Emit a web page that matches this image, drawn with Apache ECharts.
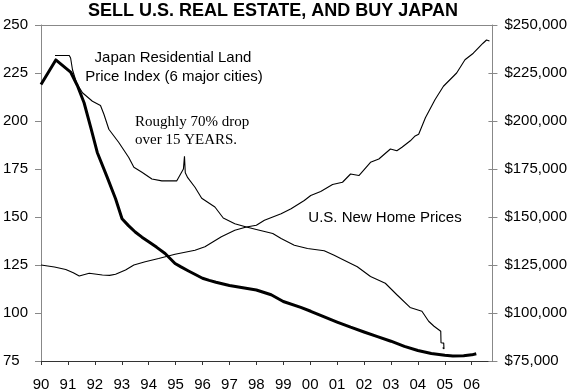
<!DOCTYPE html>
<html>
<head>
<meta charset="utf-8">
<script src="https://cdn.jsdelivr.net/npm/echarts@6/dist/echarts.min.js"></script>
<style>html,body{margin:0;padding:0;background:#fff}#c{width:570px;height:392px}</style>
</head>
<body>
<div id="c"></div>
<script>
// ---- data ----
const titleText = 'SELL U.S. REAL ESTATE, AND BUY JAPAN';
const leftTicks = [75, 100, 125, 150, 175, 200, 225, 250];
const rightTicks = [75000, 100000, 125000, 150000, 175000, 200000, 225000, 250000];
const yearTicks = [1990, 1991, 1992, 1993, 1994, 1995, 1996, 1997, 1998, 1999, 2000, 2001, 2002, 2003, 2004, 2005, 2006];

// thick curve (left axis)
const japanTrend = [
  [1990.0, 219], [1990.55, 231.8], [1991.1, 225.5], [1991.35, 218.5], [1991.6, 209.5], [1991.85, 196.5],
  [1992.09, 183.6], [1992.45, 171], [1992.77, 159.5], [1993.01, 149.1], [1993.25, 145.5],
  [1993.5, 142.2], [1993.75, 139.5], [1994.0, 137.1], [1994.3, 134.2], [1994.61, 131],
  [1994.98, 125.8], [1995.2, 124], [1995.48, 121.9], [1995.75, 119.9], [1996.0, 118.1],
  [1996.25, 117], [1996.5, 116], [1997.0, 114.3], [1997.5, 113.1], [1998.0, 112],
  [1998.55, 109.5], [1999.0, 106], [1999.65, 102.9], [2000.02, 100.9], [2000.5, 98.1],
  [2001.0, 95.3], [2001.5, 92.6], [2002.0, 90.1], [2002.5, 87.7], [2003.0, 85.3],
  [2003.5, 82.6], [2004.0, 80.5], [2004.5, 78.9], [2005.0, 78.0], [2005.3, 77.6],
  [2005.7, 77.7], [2006.0, 78.2], [2006.17, 78.8]
];

// thin Japan residential land price index (left axis)
const japanLand = [
  [1990.52, 234.1], [1991.05, 234.1], [1991.1, 232.8], [1991.17, 226.7], [1991.32, 219.8],
  [1991.54, 214.7], [1991.91, 210.3], [1992.21, 208.1], [1992.34, 203.4], [1992.52, 195.7],
  [1992.89, 188.8], [1993.26, 181.0], [1993.45, 175.9], [1993.75, 173.3], [1994.12, 169.8],
  [1994.49, 168.8], [1995.04, 168.8], [1995.29, 175.0], [1995.33, 181.6], [1995.36, 173],
  [1995.45, 170.5], [1995.72, 165.5], [1995.97, 159.8], [1996.46, 155.2], [1996.77, 149.5],
  [1997.2, 146.5], [1997.63, 144.8], [1998.0, 143.5], [1998.61, 141.4], [1998.92, 138.8],
  [1999.41, 135.3], [1999.9, 133.6], [2000.52, 132.4], [2000.89, 130.1], [2001.13, 128.4],
  [2001.75, 124.1], [2002.24, 119.0], [2002.79, 115.5], [2003.22, 109.5], [2003.71, 102.9],
  [2004.15, 100.9], [2004.4, 95.7], [2004.6, 93.1], [2004.85, 90.5], [2004.86, 84.5],
  [2004.96, 84.3], [2004.97, 81.3], [2004.92, 82.0]
];

// U.S. new home prices (right axis, dollars)
const usHomePrices = [
  [1990.0, 125000], [1990.5, 124000], [1990.92, 122700], [1991.2, 121000], [1991.42, 119300],
  [1991.79, 120700], [1992.28, 119800], [1992.55, 119600], [1992.77, 120200], [1993.14, 122400],
  [1993.45, 125000], [1993.87, 126700], [1994.37, 128400], [1994.98, 130600], [1995.72, 132700],
  [1996.09, 134500], [1996.7, 139700], [1997.2, 143100], [1997.63, 144800], [1998.0, 145700],
  [1998.3, 148300], [1998.92, 151700], [1999.29, 154300], [1999.78, 158600], [2000.02, 161200],
  [2000.39, 163300], [2000.83, 166900], [2001.2, 168100], [2001.5, 172400], [2001.81, 171600],
  [2002.24, 178500], [2002.55, 180200], [2002.98, 185400], [2003.22, 184500], [2003.41, 186300],
  [2003.72, 189700], [2003.9, 192200], [2004.03, 193100], [2004.28, 201700], [2004.64, 211200],
  [2004.95, 218100], [2005.44, 225000], [2005.75, 231900], [2006.06, 235300], [2006.42, 240500],
  [2006.55, 242200], [2006.66, 241700]
];

const annotations = {
  japan1: 'Japan Residential Land',
  japan2: 'Price Index (6 major cities)',
  drop1: 'Roughly 70% drop',
  drop2: 'over 15 YEARS.',
  us: 'U.S. New Home Prices'
};

// ---- chart ----
const SANS = '"Liberation Sans", Arial, sans-serif';
const SERIF = '"Liberation Serif", "Times New Roman", serif';
const xMin = yearTicks[0], xMax = 2006.77;
const fmtYear = v => Number.isInteger(v) ? String(v % 100).padStart(2, '0') : '';
const fmtDollar = v => '$' + String(v).replace(/\B(?=(\d{3})+(?!\d))/g, ',');

const chart = echarts.init(document.getElementById('c'), null, {renderer: 'canvas'});
chart.setOption({
  animation: false,
  backgroundColor: '#fff',
  title: {
    text: titleText, left: 273, top: 2, textAlign: 'center', padding: 0,
    textStyle: {fontFamily: SANS, fontWeight: 'bold', fontSize: 18, color: '#000'}
  },
  grid: {left: 38.3, right: 77.3, top: 25, bottom: 28.7, containLabel: false},
  xAxis: [{
    type: 'value', min: xMin, max: xMax, interval: 1, position: 'bottom',
    axisLine: {show: true, lineStyle: {color: '#333', width: 1}},
    axisTick: {show: true, inside: false, length: 4, lineStyle: {color: '#333'}},
    axisLabel: {formatter: fmtYear, margin: 16, fontFamily: SANS, fontSize: 15, color: '#000', showMaxLabel: false},
    splitLine: {show: false}
  }, {
    type: 'value', min: xMin, max: xMax, position: 'top',
    axisLine: {show: true, onZero: false, lineStyle: {color: '#888', width: 1}},
    axisTick: {show: false}, axisLabel: {show: false}, splitLine: {show: false}
  }],
  yAxis: [{
    type: 'value', min: leftTicks[0], max: leftTicks[leftTicks.length - 1], interval: 25, position: 'left',
    axisLine: {show: true, onZero: false, lineStyle: {color: '#888', width: 1}},
    axisTick: {show: true, length: 6, lineStyle: {color: '#888'}},
    axisLabel: {margin: 38, align: 'left', fontFamily: SANS, fontSize: 15, color: '#000'},
    splitLine: {show: false}
  }, {
    type: 'value', min: rightTicks[0], max: rightTicks[rightTicks.length - 1], interval: 25000, position: 'right',
    axisLine: {show: true, onZero: false, lineStyle: {color: '#888', width: 1}},
    axisTick: {show: true, length: 5, lineStyle: {color: '#888'}},
    axisLabel: {margin: 12, formatter: fmtDollar, fontFamily: SANS, fontSize: 15, color: '#000'},
    splitLine: {show: false}
  }, {
    type: 'value', min: rightTicks[0], max: rightTicks[rightTicks.length - 1], interval: 25000, position: 'right',
    axisLine: {show: false},
    axisTick: {show: true, inside: true, length: 4, lineStyle: {color: '#888'}},
    axisLabel: {show: false}, splitLine: {show: false}
  }],
  series: [{
    name: 'Japan trend', type: 'line', xAxisIndex: 0, yAxisIndex: 0, data: japanTrend,
    showSymbol: false, smooth: false, lineStyle: {color: '#000', width: 3, join: 'round'}, z: 3
  }, {
    name: 'Japan Residential Land Price Index', type: 'line', xAxisIndex: 0, yAxisIndex: 0, data: japanLand,
    showSymbol: false, lineStyle: {color: '#000', width: 1.1}, z: 2
  }, {
    name: 'U.S. New Home Prices', type: 'line', xAxisIndex: 0, yAxisIndex: 1, data: usHomePrices,
    showSymbol: false, lineStyle: {color: '#000', width: 1.1}, z: 2
  }],
  graphic: [
    {type: 'text', x: 173, y: 58, style: {text: annotations.japan1, align: 'center', verticalAlign: 'middle', font: '15px ' + SANS, fill: '#000'}},
    {type: 'text', x: 174, y: 76.7, style: {text: annotations.japan2, align: 'center', verticalAlign: 'middle', font: '15px ' + SANS, fill: '#000'}},
    {type: 'text', x: 135, y: 122, style: {text: annotations.drop1, align: 'left', verticalAlign: 'middle', font: '15px ' + SERIF, fill: '#000'}},
    {type: 'text', x: 135, y: 140.3, style: {text: annotations.drop2, align: 'left', verticalAlign: 'middle', font: '15px ' + SERIF, fill: '#000'}},
    {type: 'text', x: 308.3, y: 218, style: {text: annotations.us, align: 'left', verticalAlign: 'middle', font: '15px ' + SANS, fill: '#000'}}
  ]
});
</script>
</body>
</html>
